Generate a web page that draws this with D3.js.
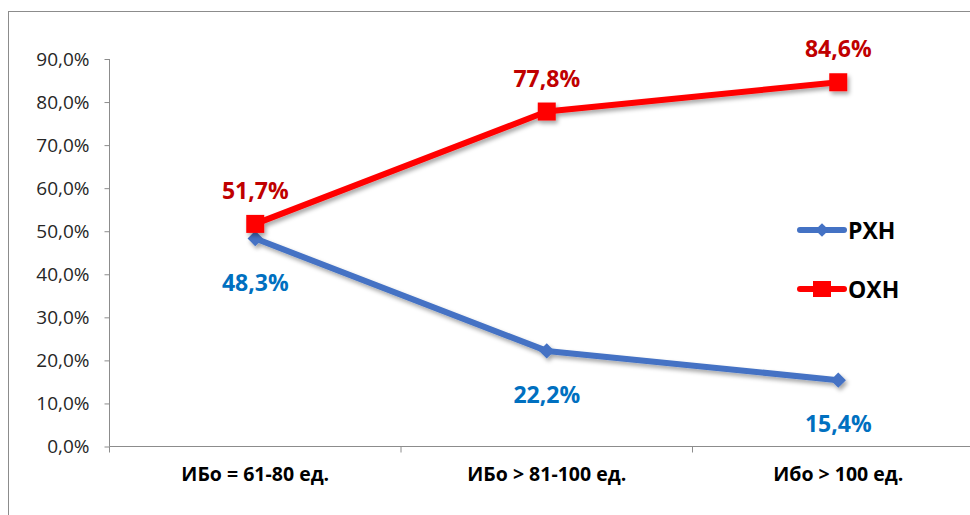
<!DOCTYPE html>
<html><head><meta charset="utf-8">
<script src="https://cdn.jsdelivr.net/npm/d3@7"></script>
<style>
html,body{margin:0;padding:0;background:#fff;}
svg{display:block;}
</style></head>
<body>
<svg id="chart" width="970" height="515"></svg>
<script>
const categories = ["ИБо = 61-80 ед.", "ИБо > 81-100 ед.", "Ибо > 100 ед."];
const rxnValues = [48.3, 22.2, 15.4];
const oxnValues = [51.7, 77.8, 84.6];
const yTicks = [0, 10, 20, 30, 40, 50, 60, 70, 80, 90];
const seriesNames = ["РХН", "ОХН"];

(function(){
const svg = d3.select("#chart");
const font = "'Open Sans', 'Noto Sans', sans-serif";

const defs = svg.append("defs");
const f = defs.append("filter").attr("id","sh").attr("x","-50%").attr("y","-50%").attr("width","200%").attr("height","200%");
f.append("feDropShadow").attr("dx",2).attr("dy",3).attr("stdDeviation",2).attr("flood-color","#000").attr("flood-opacity",0.35);

// chart frame
svg.append("rect").attr("x",8.5).attr("y",11.5).attr("width",1000).attr("height",1000)
  .attr("fill","none").attr("stroke","#8c8c8c").attr("stroke-width",1);

const pL = 109.5, pR = 984, pT = 59, pB = 446.5;
const x = d3.scaleBand().domain(categories).range([pL, pR]);
const y = d3.scaleLinear().domain([0, 90]).range([pB, pT]);

// y axis
const yAxis = svg.append("g").attr("transform",`translate(${pL},0)`)
  .call(d3.axisLeft(y).tickValues(yTicks).tickSize(5).tickPadding(15)
    .tickFormat(d => d3.format(".1f")(d).replace(".", ",") + "%"));
yAxis.selectAll("path,line").attr("stroke","#8c8c8c");
yAxis.select(".domain").attr("d", `M0,${pT}V${pB}`);
yAxis.selectAll("text").attr("font-family",font).attr("font-size",19).attr("fill","#262626");

// x axis
const xAxis = svg.append("g").attr("transform",`translate(0,${pB})`)
  .call(d3.axisBottom(x).tickSize(0).tickPadding(21));
xAxis.selectAll("path").attr("stroke","#8c8c8c");
xAxis.select(".domain").attr("d", `M${pL},0H${pR}`);
xAxis.selectAll("text").attr("font-family",font).attr("font-size",19.5).attr("font-weight","bold").attr("fill","#000");
xAxis.selectAll("line.bt").data([0,1,2,3]).enter().append("line")
  .attr("class","bt").attr("x1", i => pL + i*x.step()).attr("x2", i => pL + i*x.step())
  .attr("y1",0).attr("y2",6).attr("stroke","#8c8c8c");

const cx = c => x(c) + x.bandwidth()/2;
const line = d3.line().x((d,i) => cx(categories[i])).y(d => y(d));

const gBlue = svg.append("g").attr("filter","url(#sh)");
gBlue.append("path").datum(rxnValues).attr("d", line).attr("fill","none")
  .attr("stroke","#4472C4").attr("stroke-width",6).attr("stroke-linejoin","round");
gBlue.selectAll("path.m").data(rxnValues).enter().append("path").attr("class","m")
  .attr("d", d3.symbol().type(d3.symbolDiamond2).size(150))
  .attr("transform",(d,i)=>`translate(${cx(categories[i])},${y(d)})`).attr("fill","#4472C4");

const gRed = svg.append("g").attr("filter","url(#sh)");
gRed.append("path").datum(oxnValues).attr("d", line).attr("fill","none")
  .attr("stroke","#FF0000").attr("stroke-width",6).attr("stroke-linejoin","round");
gRed.selectAll("rect").data(oxnValues).enter().append("rect")
  .attr("x",(d,i)=>cx(categories[i])-9).attr("y",d=>y(d)-9).attr("width",18).attr("height",18)
  .attr("fill","#FF0000");

const fmt = d => d3.format(".1f")(d).replace(".", ",") + "%";
svg.selectAll("text.lr").data(oxnValues).enter().append("text").attr("class","lr")
  .attr("x",(d,i)=>cx(categories[i])).attr("y",d=>y(d)-25)
  .attr("text-anchor","middle").attr("font-family",font).attr("font-size",23).attr("font-weight",700)
  .attr("fill","#C00000").text(fmt);
svg.selectAll("text.lb").data(rxnValues).enter().append("text").attr("class","lb")
  .attr("x",(d,i)=>cx(categories[i])).attr("y",d=>y(d)+52)
  .attr("text-anchor","middle").attr("font-family",font).attr("font-size",23).attr("font-weight",700)
  .attr("fill","#0070C0").text(fmt);

// legend
const legY = [230, 289];
const colors = ["#4472C4", "#FF0000"];
seriesNames.forEach((n,i) => {
  const g = svg.append("g").attr("transform",`translate(800,${legY[i]})`);
  g.append("line").attr("x1",0).attr("x2",44).attr("y1",0).attr("y2",0)
    .attr("stroke",colors[i]).attr("stroke-width",6).attr("stroke-linecap","round");
  if (i===0) g.append("path").attr("d", d3.symbol().type(d3.symbolDiamond2).size(120)).attr("transform","translate(22,0)").attr("fill",colors[i]);
  else g.append("rect").attr("x",13).attr("y",-8).attr("width",18).attr("height",16).attr("fill",colors[i]);
  g.append("text").attr("x",48).attr("y",9).attr("font-family",font).attr("font-size",23).attr("font-weight","bold")
    .attr("fill","#000").text(n);
});
})();
</script>
</body></html>
